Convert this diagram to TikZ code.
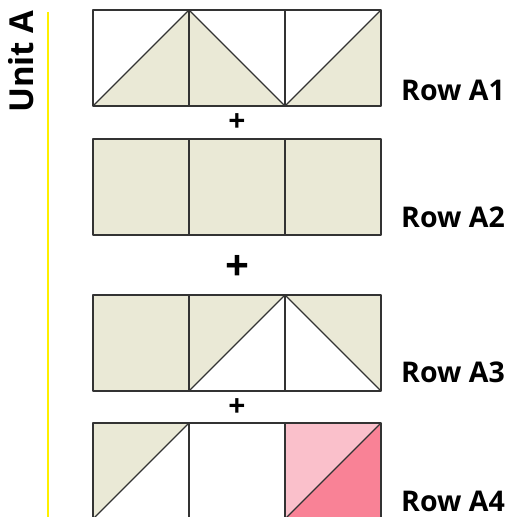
\documentclass[tikz,border=0pt]{standalone}
\usepackage{fontspec}
\setmainfont{Open Sans}
\begin{document}
\begin{tikzpicture}[x=1pt,y=-1pt,line join=round,
  outl/.style={draw=black!80,line width=1.4pt},
  beigefill/.style={fill=quiltbeige},
  rowlabel/.style={font=\bfseries\fontsize{28.5}{28.5}\selectfont,anchor=base west,inner sep=0pt},
  plussmall/.style={font=\bfseries\fontsize{30}{30}\selectfont,inner sep=0pt},
  plusbig/.style={font=\bfseries\fontsize{42}{42}\selectfont,inner sep=0pt}]
\definecolor{quiltbeige}{RGB}{234,233,214}
\definecolor{lightpink}{RGB}{250,192,203}
\definecolor{darkpink}{RGB}{249,130,150}
\definecolor{unityellow}{RGB}{255,240,0}
\useasboundingbox (0,0) rectangle (508,517);
\clip (0,0) rectangle (508,517);

% Unit label and yellow rule
\node[font=\bfseries\fontsize{33}{33}\selectfont,rotate=90,anchor=base west,inner sep=0pt] (unit) at (34,113) {Unit A};
\draw[unityellow,line width=1.8pt] (48,12) -- (48,517);

% Row A1
\fill[beigefill] (93,106) -- (189,106) -- (189,10) -- cycle;
\fill[beigefill] (189,10) -- (285,106) -- (189,106) -- cycle;
\fill[beigefill] (285,106) -- (381,10) -- (381,106) -- cycle;
\draw[outl] (93,10) rectangle (381,106);
\draw[outl] (189,10) -- (189,106) (285,10) -- (285,106);
\draw[outl] (93,106) -- (189,10) -- (285,106) -- (381,10);
\node[rowlabel] (ra1) at (401,100) {Row A1};
\node[plussmall] (p1) at (237,123) {+};

% Row A2
\fill[beigefill] (93,139) rectangle (381,235);
\draw[outl] (93,139) rectangle (381,235);
\draw[outl] (189,139) -- (189,235) (285,139) -- (285,235);
\node[rowlabel] (ra2) at (401,227) {Row A2};
\node[plusbig] (p2) at (237,268) {+};

% Row A3
\fill[beigefill] (93,295) rectangle (189,391);
\fill[beigefill] (189,295) -- (285,295) -- (189,391) -- cycle;
\fill[beigefill] (285,295) -- (381,295) -- (381,391) -- cycle;
\draw[outl] (93,295) rectangle (381,391);
\draw[outl] (189,295) -- (189,391) (285,295) -- (285,391);
\draw[outl] (189,391) -- (285,295) -- (381,391);
\node[rowlabel] (ra3) at (401,382) {Row A3};
\node[plussmall] (p3) at (237,408) {+};

% Row A4
\fill[beigefill] (93,423) -- (189,423) -- (93,519) -- cycle;
\fill[lightpink] (285,423) -- (381,423) -- (285,519) -- cycle;
\fill[darkpink] (381,423) -- (381,519) -- (285,519) -- cycle;
\draw[outl] (93,423) rectangle (381,519);
\draw[outl] (189,423) -- (189,519) (285,423) -- (285,519);
\draw[outl] (93,519) -- (189,423) (285,519) -- (381,423);
\node[rowlabel] (ra4) at (401,511) {Row A4};
\end{tikzpicture}
\end{document}
